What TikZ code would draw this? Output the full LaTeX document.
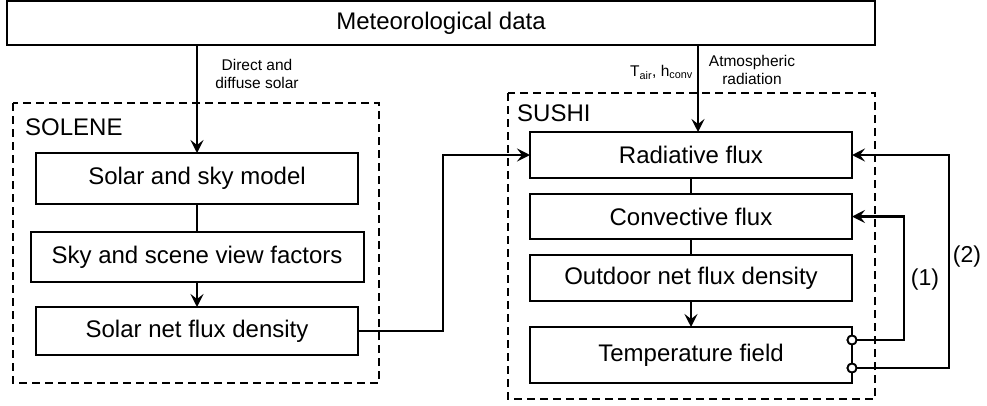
\documentclass[tikz,border=0pt]{standalone}
\usepackage{fontspec}
\setmainfont{Liberation Sans}
\usetikzlibrary{arrows.meta}
\begin{document}
\begin{tikzpicture}[x=1pt,y=-1pt,
  box/.style={draw, line width=2pt, inner sep=0pt, outer sep=0pt, font=\fontsize{24}{28}\selectfont},
  grp/.style={draw, dashed, dash pattern=on 8pt off 5pt, line width=1.8pt},
  grplabel/.style={anchor=west, inner sep=0pt, font=\fontsize{24}{28}\selectfont},
  conn/.style={line width=2.6pt},
  arr/.style={line width=2.6pt, -{Stealth[length=13pt,width=13pt,inset=5pt]}},
  small/.style={inner sep=0pt, align=center, font=\fontsize{15.5}{18}\selectfont},
  port/.style={circle, draw, fill=white, line width=1.8pt, minimum size=9pt, inner sep=0pt, outer sep=0pt},
  fb/.style={inner sep=0pt, font=\fontsize{23}{27}\selectfont}]
\useasboundingbox (0,0) rectangle (987,405);

% groups
\draw[grp] (13,103) rectangle (379,383);
\draw[grp] (508,93) rectangle (875,399);
\node[grplabel] (solene) at (25,127) {SOLENE};
\node[grplabel] (sushi) at (517,113) {SUSHI};

% boxes
\node[box, minimum width=868pt, minimum height=44pt] (met) at (441,23) {Meteorological data};
\node[box, minimum width=322pt, minimum height=51pt] (sol1) at (197,178.5) {Solar and sky model};
\node[box, minimum width=333pt, minimum height=50pt] (sky) at (197,257) {Sky and scene view factors};
\node[box, minimum width=322pt, minimum height=48pt] (snet) at (197,331) {Solar net flux density};
\node[box, minimum width=322pt, minimum height=46pt] (rad) at (691,155) {Radiative flux};
\node[box, minimum width=322pt, minimum height=45pt] (conv) at (691,216.5) {Convective flux};
\node[box, minimum width=322pt, minimum height=46pt] (out) at (691,278) {Outdoor net flux density};
\node[box, minimum width=322pt, minimum height=56pt] (temp) at (691,355) {Temperature field};

% labels
\node[small] (lsolar) at (257,74) {Direct and\\diffuse solar};
\node[small, anchor=east] (lt) at (693,72) {T\textsubscript{air}, h\textsubscript{conv}};
\node[small] (latm) at (752,70) {Atmospheric\\radiation};

% helper coordinates
\coordinate (ra) at (698,0);
\coordinate (j1) at (443,0);
\coordinate (k1) at (904,0);
\coordinate (k2) at (949,0);

% connectors
\draw[arr] (sol1.north |- met.south) -- (sol1.north);
\draw[conn] (sol1.south) -- (sky.north -| sol1.south);
\draw[arr] (sky.south -| sol1.south) -- (snet.north);
\draw[arr] (snet.east) -- (snet.east -| j1) |- (rad.west);
\draw[arr] (ra |- met.south) -- (ra |- rad.north);
\draw[conn] (rad.south) -- (conv.north);
\draw[conn] (conv.south) -- (out.north);
\draw[arr] (out.south) -- (temp.north);

\node[port] (c1) at (852,340) {};
\node[port] (c2) at (852,368) {};
\draw[arr] (c1.east) -- (c1 -| k1) |- (conv.east);
\draw[arr] (c2.east) -- (c2 -| k2) |- (rad.east);
\node[port] at (c1) {};
\node[port] at (c2) {};

\node[fb] (l1) at (925,280) {(1)};
\node[fb] (l2) at (967,257) {(2)};
\end{tikzpicture}
\end{document}
